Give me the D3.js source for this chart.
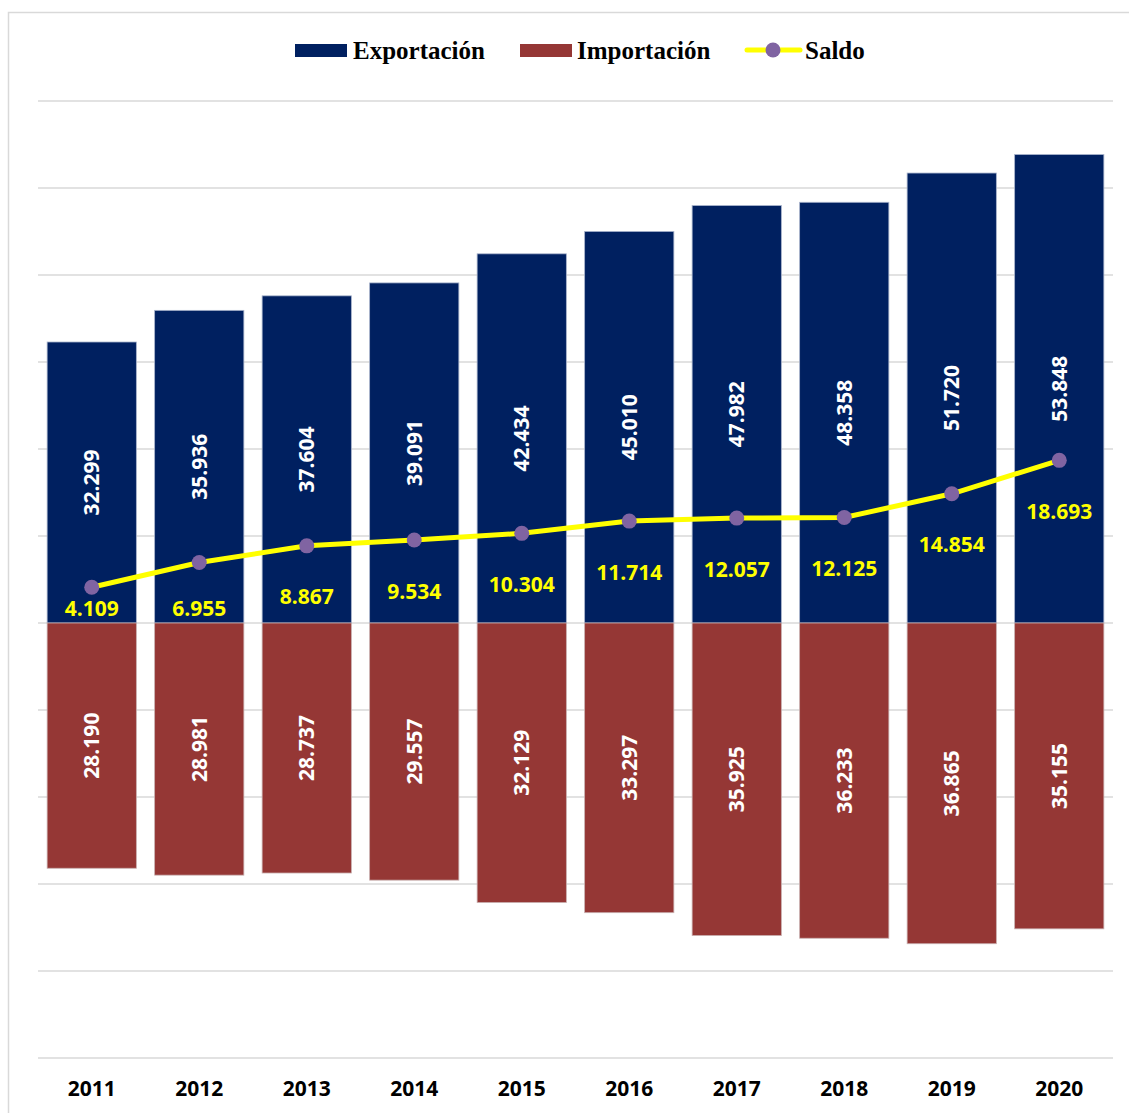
<!DOCTYPE html>
<html>
<head>
<meta charset="utf-8">
<script src="https://cdn.jsdelivr.net/npm/d3@7"></script>
<style>
  body { margin: 0; background: #fff; }
  svg { display: block; }
</style>
</head>
<body>
<svg id="chart" width="1129" height="1113"></svg>
<script>
// datos
const years = ["2011", "2012", "2013", "2014", "2015", "2016", "2017", "2018", "2019", "2020"];
const exportacion = [32299, 35936, 37604, 39091, 42434, 45010, 47982, 48358, 51720, 53848];
const importacion = [28190, 28981, 28737, 29557, 32129, 33297, 35925, 36233, 36865, 35155];
const saldo = [4109, 6955, 8867, 9534, 10304, 11714, 12057, 12125, 14854, 18693];
const gridTicks = [-50000, -40000, -30000, -20000, -10000, 0, 10000, 20000, 30000, 40000, 50000, 60000];

const fmt = v => d3.format(",")(v).replace(/,/g, ".");
const numFont = "'Open Sans', 'Liberation Sans', sans-serif";

const svg = d3.select("#chart");

// marco del grafico
svg.append("rect")
    .attr("x", 8.5).attr("y", 12.5)
    .attr("width", 1140).attr("height", 1120)
    .attr("fill", "none").attr("stroke", "#d9d9d9").attr("stroke-width", 1.5);

const x = d3.scaleBand().domain(years).range([38, 1113]).paddingInner(0.17).paddingOuter(0.085);
const y = d3.scaleLinear().domain([-50000, 60000]).range([1058, 101]);

// lineas de cuadricula
svg.append("g").selectAll("line")
    .data(gridTicks)
    .enter().append("line")
    .attr("x1", 38).attr("x2", 1113)
    .attr("y1", d => y(d)).attr("y2", d => y(d))
    .attr("stroke", "#d9d9d9").attr("stroke-width", 1.5);

// barras de exportacion
svg.append("g").selectAll("rect")
    .data(exportacion)
    .enter().append("rect")
    .attr("x", (d, i) => x(years[i]))
    .attr("y", d => y(d))
    .attr("width", x.bandwidth())
    .attr("height", d => y(0) - y(d))
    .attr("fill", "#002060")
    .attr("stroke", "#a9b4cc").attr("stroke-width", 0.8);

// barras de importacion (hacia abajo)
svg.append("g").selectAll("rect")
    .data(importacion)
    .enter().append("rect")
    .attr("x", (d, i) => x(years[i]))
    .attr("y", y(0))
    .attr("width", x.bandwidth())
    .attr("height", d => y(-d) - y(0))
    .attr("fill", "#953735")
    .attr("stroke", "#c9b0b0").attr("stroke-width", 0.8);

// etiquetas verticales
svg.append("g").selectAll("text")
    .data(exportacion)
    .enter().append("text")
    .attr("transform", (d, i) => {
        const cx = x(years[i]) + x.bandwidth() / 2;
        const cy = (y(d) + y(0)) / 2;
        return `translate(${cx},${cy}) rotate(-90)`;
    })
    .attr("text-anchor", "middle").attr("dy", "0.36em")
    .attr("fill", "#fff").attr("font-family", numFont)
    .attr("font-weight", "bold").attr("font-size", 21)
    .text(d => fmt(d));

svg.append("g").selectAll("text")
    .data(importacion)
    .enter().append("text")
    .attr("transform", (d, i) => {
        const cx = x(years[i]) + x.bandwidth() / 2;
        const cy = (y(-d) + y(0)) / 2;
        return `translate(${cx},${cy}) rotate(-90)`;
    })
    .attr("text-anchor", "middle").attr("dy", "0.36em")
    .attr("fill", "#fff").attr("font-family", numFont)
    .attr("font-weight", "bold").attr("font-size", 21)
    .text(d => fmt(d));

// linea de saldo
const cxs = i => x(years[i]) + x.bandwidth() / 2;
const line = d3.line().x((d, i) => cxs(i)).y(d => y(d));
svg.append("path")
    .datum(saldo)
    .attr("d", line)
    .attr("fill", "none").attr("stroke", "#ffff00").attr("stroke-width", 5);

svg.append("g").selectAll("circle")
    .data(saldo)
    .enter().append("circle")
    .attr("cx", (d, i) => cxs(i)).attr("cy", d => y(d))
    .attr("r", 7.5).attr("fill", "#8064a2");

svg.append("g").selectAll("text")
    .data(saldo)
    .enter().append("text")
    .attr("x", (d, i) => cxs(i))
    .attr("y", d => Math.min(y(d) + 51, 608))
    .attr("text-anchor", "middle").attr("dy", "0.36em")
    .attr("fill", "#ffff00").attr("font-family", numFont)
    .attr("font-weight", "bold").attr("font-size", 21)
    .text(d => fmt(d));

// eje x
svg.append("g").selectAll("text")
    .data(years)
    .enter().append("text")
    .attr("x", d => x(d) + x.bandwidth() / 2)
    .attr("y", 1088).attr("dy", "0.36em")
    .attr("text-anchor", "middle")
    .attr("font-family", numFont).attr("font-weight", "bold").attr("font-size", 21)
    .attr("fill", "#000")
    .text(d => d);

// leyenda
const legFont = "'Liberation Serif', 'DejaVu Serif', serif";
const leg = svg.append("g").attr("font-family", legFont).attr("font-weight", "bold").attr("font-size", 25);
leg.append("rect").attr("x", 295).attr("y", 44).attr("width", 52).attr("height", 13).attr("fill", "#002060");
leg.append("text").attr("x", 353).attr("y", 50).attr("dy", "0.35em").text("Exportación");
leg.append("rect").attr("x", 520).attr("y", 44).attr("width", 52).attr("height", 13).attr("fill", "#953735");
leg.append("text").attr("x", 577).attr("y", 50).attr("dy", "0.35em").text("Importación");
leg.append("line").attr("x1", 747).attr("x2", 800).attr("y1", 50).attr("y2", 50)
    .attr("stroke", "#ffff00").attr("stroke-width", 5).attr("stroke-linecap", "round");
leg.append("circle").attr("cx", 773).attr("cy", 50).attr("r", 7.5).attr("fill", "#8064a2");
leg.append("text").attr("x", 805).attr("y", 50).attr("dy", "0.35em").text("Saldo");
</script>
</body>
</html>
